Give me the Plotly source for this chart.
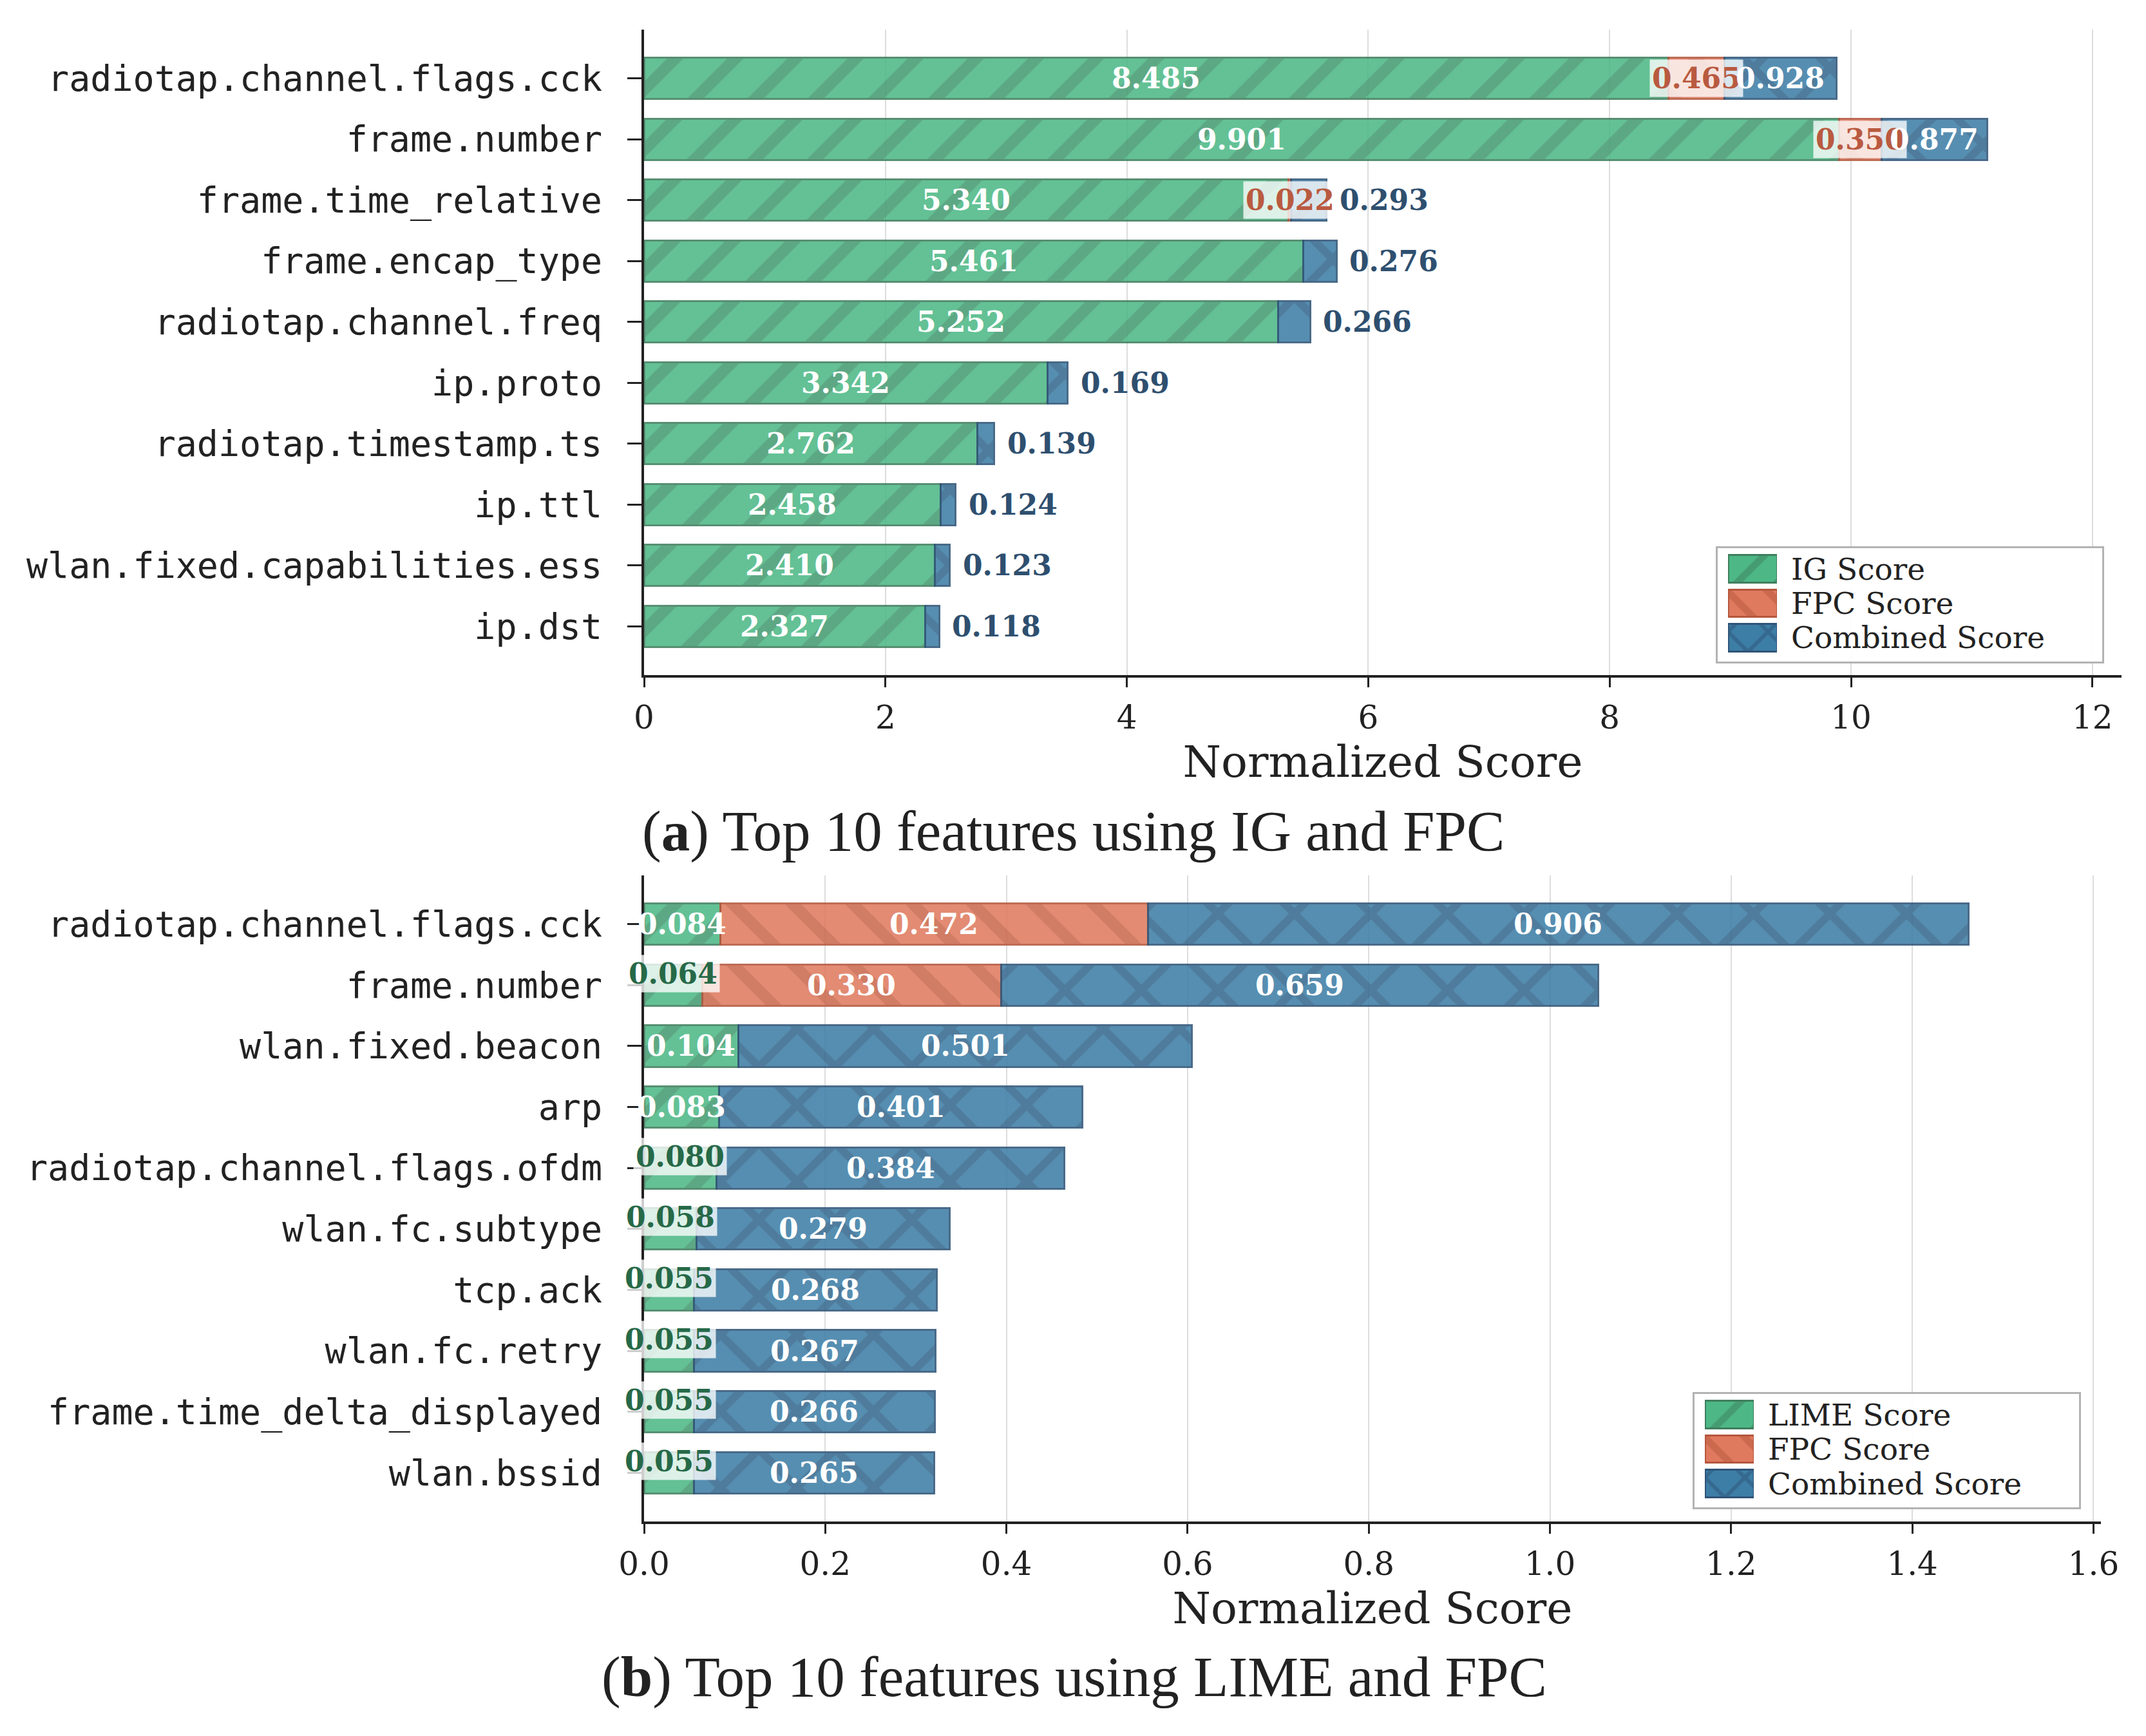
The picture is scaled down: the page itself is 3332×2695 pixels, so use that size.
import plotly.graph_objects as go

W, H = 3332, 2695

# ---------------- data ----------------
features_a = ["radiotap.channel.flags.cck", "frame.number", "frame.time_relative",
              "frame.encap_type", "radiotap.channel.freq", "ip.proto",
              "radiotap.timestamp.ts", "ip.ttl", "wlan.fixed.capabilities.ess", "ip.dst"]
ig_a = [8.485, 9.901, 5.340, 5.461, 5.252, 3.342, 2.762, 2.458, 2.410, 2.327]
fpc_a = [0.465, 0.350, 0.022, 0, 0, 0, 0, 0, 0, 0]
comb_a = [0.928, 0.877, 0.293, 0.276, 0.266, 0.169, 0.139, 0.124, 0.123, 0.118]

features_b = ["radiotap.channel.flags.cck", "frame.number", "wlan.fixed.beacon", "arp",
              "radiotap.channel.flags.ofdm", "wlan.fc.subtype", "tcp.ack", "wlan.fc.retry",
              "frame.time_delta_displayed", "wlan.bssid"]
lime_b = [0.084, 0.064, 0.104, 0.083, 0.080, 0.058, 0.055, 0.055, 0.055, 0.055]
fpc_b = [0.472, 0.330, 0, 0, 0, 0, 0, 0, 0, 0]
comb_b = [0.906, 0.659, 0.501, 0.401, 0.384, 0.279, 0.268, 0.267, 0.266, 0.265]

names_a = ["IG Score", "FPC Score", "Combined Score"]
names_b = ["LIME Score", "FPC Score", "Combined Score"]
caption_a = "(<b>a</b>) Top 10 features using IG and FPC"
caption_b = "(<b>b</b>) Top 10 features using LIME and FPC"
x_title = "Normalized Score"

# ---------------- style ----------------
FILL = ["#4db886", "#e07a5f", "#3d7ea6"]
EDGE = ["#3f7f5e", "#b5573d", "#2f5478"]
TXT_DARK = ["#266948", "#b95a40", "#2e4f6f"]
SHAPES = ["/", "\\", "x"]
PSIZE = [66, 66, 84]
SERIF = "DejaVu Serif"
MONO = "DejaVu Sans Mono"
INK = "#222222"
VAL_SIZE = 44


def fx(p):
    return p / W


def fy(p):
    return 1 - p / H


panels = [
    dict(feat=features_a, series=[ig_a, fpc_a, comb_a], names=names_a, caption=caption_a,
         xpix=(1000, 3294), ypix=(46, 1048), dtick=2, fmt="d", box_shift=0,
         legbox=(2665, 849, 3265, 1028), cap_xy=(1666, 1290), ax=("", "")),
    dict(feat=features_b, series=[lime_b, fpc_b, comb_b], names=names_b, caption=caption_b,
         xpix=(1000, 3262), ypix=(1359, 2362), dtick=0.2, fmt=".1f", box_shift=18,
         legbox=(2629, 2162, 3229, 2341), cap_xy=(1668, 2603), ax=("2", "2")),
]

fig = go.Figure()
annotations = []
layout_axes = {}
extra_ax = 3

for P in panels:
    sfx = P["ax"][0]
    xname, yname = "x" + sfx, "y" + sfx
    n = len(P["feat"])
    ypos = list(range(n))
    totals = [sum(s[i] for s in P["series"]) for i in range(n)]
    xmax = max(totals) * 1.1

    for k, vals in enumerate(P["series"]):
        fig.add_trace(go.Bar(
            x=[v if v > 0 else None for v in vals], y=ypos, orientation="h",
            xaxis=xname, yaxis=yname, width=0.68, showlegend=False, hoverinfo="skip",
            marker=dict(color=FILL[k], opacity=0.87,
                        line=dict(color=EDGE[k], width=3),
                        pattern=dict(shape=SHAPES[k], fgcolor=EDGE[k], size=PSIZE[k],
                                     solidity=0.27, fillmode="overlay")),
        ))

    # value labels
    thr = 0.05 * xmax
    for i in range(n):
        start = 0.0
        for k, vals in enumerate(P["series"]):
            v = vals[i]
            if v <= 0:
                continue
            txt = "<b>%.3f</b>" % v
            if v >= thr:
                annotations.append(dict(x=start + v / 2, y=i, xref=xname, yref=yname,
                                        text=txt, showarrow=False,
                                        font=dict(family=SERIF, size=VAL_SIZE, color="white")))
            elif k == 2:
                annotations.append(dict(x=start + v, y=i, xref=xname, yref=yname,
                                        text=txt, showarrow=False, xanchor="left", xshift=18,
                                        font=dict(family=SERIF, size=VAL_SIZE, color=TXT_DARK[k])))
            else:
                annotations.append(dict(x=start + v / 2, y=i, xref=xname, yref=yname,
                                        text=txt, showarrow=False, yshift=P["box_shift"],
                                        bgcolor="rgba(255,255,255,0.78)", borderpad=3,
                                        font=dict(family=SERIF, size=VAL_SIZE, color=TXT_DARK[k])))
            start += v

    layout_axes["xaxis" + sfx] = dict(
        domain=[fx(P["xpix"][0]), fx(P["xpix"][1])], range=[0, xmax], anchor=yname,
        automargin=False,
        showline=True, linecolor=INK, linewidth=4, ticks="outside", ticklen=15,
        tickwidth=3, tickcolor=INK, showgrid=True, gridcolor="#dddddd", gridwidth=2,
        zeroline=False, tick0=0, dtick=P["dtick"], tickformat=P["fmt"],
        tickfont=dict(family=SERIF, size=50, color=INK), ticklabelstandoff=4,
        title=dict(text=x_title, font=dict(family=SERIF, size=68, color=INK), standoff=14),
    )
    layout_axes["yaxis" + sfx] = dict(
        domain=[fy(P["ypix"][1]), fy(P["ypix"][0])], range=[n - 0.2, -0.8], anchor=xname,
        automargin=False,
        tickmode="array", tickvals=ypos, ticktext=P["feat"],
        showline=True, linecolor=INK, linewidth=4, ticks="outside", ticklen=22,
        tickwidth=3, tickcolor=INK, showgrid=False, zeroline=False,
        tickfont=dict(family=MONO, size=55, color=INK), ticklabelstandoff=28,
    )

    # custom legend: box (bar on its own axes) + hatched swatches + text
    bl, bt, br, bb = P["legbox"]
    pad = 4
    bx, by = "x%d" % extra_ax, "y%d" % extra_ax
    layout_axes["xaxis%d" % extra_ax] = dict(domain=[fx(bl - pad), fx(br + pad)], range=[0, 1],
                                             visible=False, fixedrange=True, anchor=by,
                                             automargin=False)
    layout_axes["yaxis%d" % extra_ax] = dict(domain=[fy(bb + pad), fy(bt - pad)], range=[0, 1],
                                             visible=False, fixedrange=True, anchor=bx,
                                             automargin=False)
    wbox = (br - bl) + 2 * pad
    hbox = (bb - bt) + 2 * pad
    fig.add_trace(go.Bar(x=[(br - bl) / wbox], base=[pad / wbox], y=[0.5],
                         width=[(bb - bt) / hbox], orientation="h",
                         xaxis=bx, yaxis=by, showlegend=False, hoverinfo="skip",
                         marker=dict(color="rgba(255,255,255,0.92)",
                                     line=dict(color="#b3b3b3", width=3))))
    extra_ax += 1
    sx, sy = "x%d" % extra_ax, "y%d" % extra_ax
    row0, pitch = bt + 34, 53.5
    layout_axes["xaxis%d" % extra_ax] = dict(domain=[fx(bl + 18), fx(bl + 94)], range=[0, 1],
                                             visible=False, fixedrange=True, anchor=sy,
                                             automargin=False)
    layout_axes["yaxis%d" % extra_ax] = dict(domain=[fy(row0 + 2.5 * pitch), fy(row0 - 0.5 * pitch)],
                                             range=[2.5, -0.5], visible=False, fixedrange=True,
                                             anchor=sx, automargin=False)
    for k in range(3):
        fig.add_trace(go.Bar(x=[1], y=[k], orientation="h", width=0.79,
                             xaxis=sx, yaxis=sy, showlegend=False, hoverinfo="skip",
                             marker=dict(color=FILL[k],
                                         line=dict(color=EDGE[k], width=3),
                                         pattern=dict(shape=SHAPES[k], fgcolor=EDGE[k], size=44,
                                                      solidity=0.25, fillmode="overlay"))))
        annotations.append(dict(x=fx(bl + 114), y=fy(row0 + k * pitch), xref="paper", yref="paper",
                                text=P["names"][k], showarrow=False, xanchor="left", yanchor="middle",
                                font=dict(family=SERIF, size=47, color=INK)))
    extra_ax += 1

    # caption
    cx, cy = P["cap_xy"]
    annotations.append(dict(x=fx(cx), y=fy(cy), xref="paper", yref="paper", text=P["caption"],
                            showarrow=False, xanchor="center", yanchor="middle",
                            font=dict(family="Liberation Serif", size=89, color=INK)))

fig.update_layout(
    template="none",
    width=W, height=H, margin=dict(l=0, r=0, t=0, b=0, autoexpand=False),
    paper_bgcolor="white", plot_bgcolor="rgba(0,0,0,0)",
    barmode="stack", showlegend=False, annotations=annotations,
    **layout_axes,
)

fig.write_html("out.html")
